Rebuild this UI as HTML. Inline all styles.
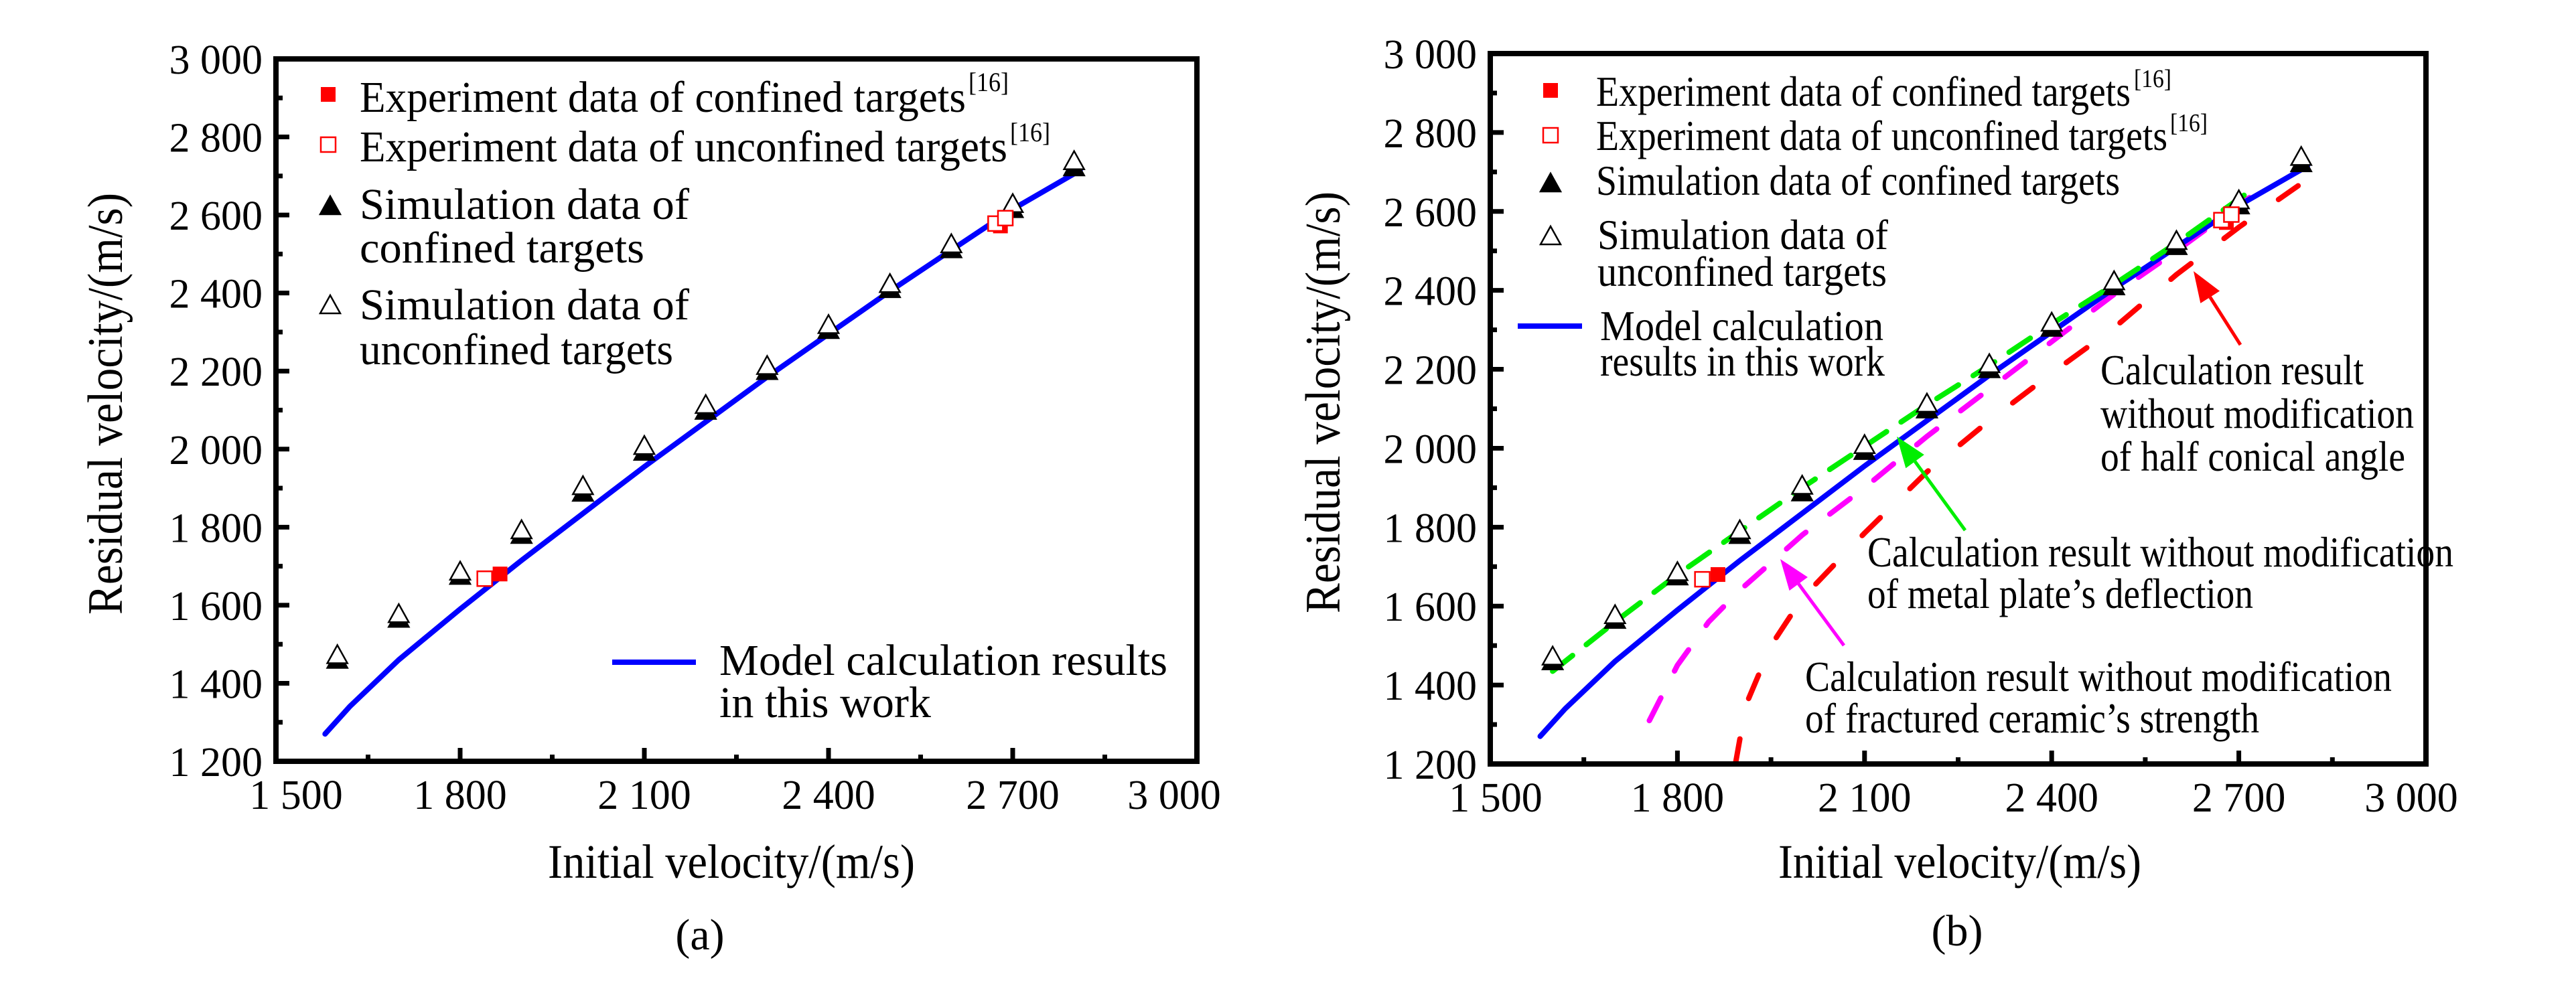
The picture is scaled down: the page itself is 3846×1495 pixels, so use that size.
<!DOCTYPE html>
<html><head><meta charset="utf-8"><style>
html,body{margin:0;padding:0;background:#fff}
svg{display:block}
text{font-family:"Liberation Serif",serif;fill:#000}
</style></head><body>
<svg id="fig" width="3846" height="1495" viewBox="0 0 3846 1495" xmlns="http://www.w3.org/2000/svg">
<defs>
<marker id="ahR" markerWidth="8" markerHeight="8" refX="7" refY="4" orient="auto" markerUnits="userSpaceOnUse" viewBox="0 0 8 8"><path d="M0,0 L8,4 L0,8 z" fill="#f00"/></marker>
</defs>
</svg>
<script>
// ---- data (shared by both panels) ----
const simX = [1600,1700,1800,1900,2000,2100,2200,2300,2400,2500,2600,2700,2800];
const simUnconf = [1472,1577,1686,1792,1905,2008,2113,2213,2318,2423,2525,2628,2738];
const simConf = [1460,1565,1675,1780,1888,1993,2098,2200,2305,2410,2512,2615,2722];
const expConfX = [1865,2680];
const expConfY = [1680,2572];
const expUnconfX = [1840,2672,2688];
const expUnconfY = [1668,2578,2592];
const modelX = [1580,1620,1700,1800,1900,2000,2100,2200,2300,2400,2500,2600,2700,2810];
const modelY = [1270,1340,1460,1590,1715,1835,1955,2070,2185,2295,2405,2510,2615,2715];
const deflX = [1600,1700,1800,1900,2000,2100,2200,2300,2400,2500,2600,2730];
const deflY = [1435,1560,1680,1790,1900,2005,2110,2210,2315,2415,2520,2665];
const ceramX = [1755,1800,1850,1900,2000,2100,2200,2300,2400,2500,2600,2730];
const ceramY = [1310,1450,1560,1640,1780,1900,2030,2150,2270,2390,2500,2650];
const angleX = [1893,1910,1950,2000,2100,2200,2300,2400,2500,2600,2700,2795];
const angleY = [1200,1350,1500,1620,1785,1940,2070,2190,2305,2440,2560,2665];
const xTicks = [1500,1800,2100,2400,2700,3000];
const xTickLabels = ["1 500","1 800","2 100","2 400","2 700","3 000"];
const yTicks = [1200,1400,1600,1800,2000,2200,2400,2600,2800,3000];
const yTickLabels = ["1 200","1 400","1 600","1 800","2 000","2 200","2 400","2 600","2 800","3 000"];

const NS="http://www.w3.org/2000/svg";
const svg=document.getElementById('fig');
function mk(tag,attrs,parent){const e=document.createElementNS(NS,tag);for(const k in attrs)e.setAttribute(k,attrs[k]);(parent||svg).appendChild(e);return e;}
function txt(s,x,y,size,parent,extra){const e=mk('text',Object.assign({x:x,y:y,'font-size':size},extra||{}),parent);e.textContent=s;return e;}

function panel(id,L,R,T,B,opts){
  const g=mk('g',{});
  
  
  const sx=v=>L+(v-1500)*(R-L)/1500;
  const sy=v=>B-(v-1200)*(B-T)/1800;
  // plotted series
  function line(xs,ys,color,dash,name){
    let d='';xs.forEach((x,i)=>{d+=(i?'L':'M')+sx(x).toFixed(1)+','+sy(ys[i]).toFixed(1);});
    const p=mk('path',{d:d,fill:'none',stroke:color,'stroke-width':8,'stroke-linecap':'round','stroke-linejoin':'round'},g);
    if(dash)p.setAttribute('stroke-dasharray',dash);
    
    
  }
  if(opts.b){
    line(angleX,angleY,'#ff0000','38 62','angle-line');
    line(ceramX,ceramY,'#ff00ff','38 45','ceramic-line');
  }
  line(modelX,modelY,'#0000ff',null,'model-line');
  if(opts.b) line(deflX,deflY,'#00ee00','38 26','deflection-line');
  function tri(cx,cy,filled,name){
    const p=mk('path',{d:`M${cx},${cy-15} L${cx+15},${cy+12} L${cx-15},${cy+12} Z`,fill:filled?'#000':'#fff',stroke:'#000','stroke-width':2.5},g);
    
    
  }
  function sq(cx,cy,filled,name){
    const p=mk('rect',{x:cx-11,y:cy-11,width:22,height:22,fill:filled?'#f00':'#fff',stroke:'#f00','stroke-width':filled?0:2.5},g);
    
    
  }
  simX.forEach((x,i)=>tri(sx(x),sy(simConf[i]),true,'sim-confined-point'));
  simX.forEach((x,i)=>tri(sx(x),sy(simUnconf[i]),false,'sim-unconfined-point'));
  expConfX.forEach((x,i)=>sq(sx(x),sy(expConfY[i]),true,'exp-confined-point'));
  expUnconfX.forEach((x,i)=>sq(sx(x),sy(expUnconfY[i]),false,'exp-unconfined-point'));
  // frame
  const f=mk('rect',{x:L,y:T,width:R-L,height:B-T,fill:'none',stroke:'#000','stroke-width':8},g);
  
  
  // ticks
  for(let v=1500;v<=3000;v+=150){
    const maj=(v-1500)%300===0;
    mk('line',{x1:sx(v),x2:sx(v),y1:B,y2:B-(maj?20:10),stroke:'#000','stroke-width':7},g);
  }
  for(let v=1200;v<=3000;v+=100){
    const maj=(v-1200)%200===0;
    mk('line',{x1:L,x2:L+(maj?20:10),y1:sy(v),y2:sy(v),stroke:'#000','stroke-width':7},g);
  }
  xTicks.forEach((v,i)=>{
    let off=0;if(i===0)off=opts.b?8:30;if(i===xTicks.length-1)off=opts.b?-22:-34;
    const t=txt(xTickLabels[i],sx(v)+off,B+71,62,g,{'text-anchor':'middle'});
    
    
  });
  yTicks.forEach((v,i)=>{
    const t=txt(yTickLabels[i],L-20,sy(v)+22,62,g,{'text-anchor':'end'});
    
    
  });
  return g;
}

const ga=panel('panel-a',412,1787,88,1137,{b:false});
const gb=panel('panel-b',2225,3622,80,1141,{b:true});

function T(s,x,y,size,len,name,parent,anchor){
  const a={};if(len){a.textLength=len;a.lengthAdjust='spacingAndGlyphs';}
  if(anchor)a['text-anchor']=anchor;
  const t=txt(s,x,y,size,parent,a);
  
  
  return t;
}
function legSq(x,y,filled,parent){const r=mk('rect',{x:x-11,y:y-11,width:22,height:22,fill:filled?'#f00':'#fff',stroke:'#f00','stroke-width':filled?0:2.5},parent);}
function legTri(x,y,filled,parent){const p=mk('path',{d:`M${x},${y-15} L${x+15},${y+12} L${x-15},${y+12} Z`,fill:filled?'#000':'#fff',stroke:'#000','stroke-width':2.5},parent);}
function legLine(x1,x2,y,parent){const l=mk('line',{x1:x1,x2:x2,y1:y,y2:y,stroke:'#0000ff','stroke-width':8},parent);}

// ---- panel a legend & labels ----
legSq(490,141,true,ga);
T('Experiment data of confined targets',537,167,66,905,'legend-exp-confined',ga);
T('[16]',1446,136,40,60,'legend-ref',ga);
legSq(490,216,false,ga);
T('Experiment data of unconfined targets',537,241,66,967,'legend-exp-unconfined',ga);
T('[16]',1508,211,40,60,'legend-ref',ga);
legTri(493,308,true,ga);
T('Simulation data of',537,327,66,492,'legend-sim-confined',ga);
T('confined targets',537,392,66,425,'legend-sim-confined-2',ga);
legTri(493,456,false,ga);
T('Simulation data of',537,477,66,492,'legend-sim-unconfined',ga);
T('unconfined targets',537,544,66,468,'legend-sim-unconfined-2',ga);
legLine(914,1039,989,ga);
T('Model calculation results',1074,1008,66,669,'legend-model',ga);
T('in this work',1074,1071,66,316,'legend-model-2',ga);
T('Initial velocity/(m/s)',1092,1311,72,548,'x-axis-title',ga,'middle');
(function(){const t=T('Residual velocity/(m/s)',0,0,74,630,'y-axis-title',ga,'middle');t.setAttribute('transform','translate(182,603) rotate(-90)');})();
T('(a)',1045,1418,66,null,'panel-label-a',ga,'middle');

// ---- panel b legend & labels ----
legSq(2315,135,true,gb);
T('Experiment data of confined targets',2383,158,64,798,'legend-exp-confined',gb);
T('[16]',3186,130,38,56,'legend-ref',gb);
legSq(2315,202,false,gb);
T('Experiment data of unconfined targets',2383,224,64,853,'legend-exp-unconfined',gb);
T('[16]',3240,196,38,56,'legend-ref',gb);
legTri(2315,274,true,gb);
T('Simulation data of confined targets',2383,291,64,782,'legend-sim-confined',gb);
legTri(2315,353,false,gb);
T('Simulation data of',2385,372,64,434,'legend-sim-unconfined',gb);
T('unconfined targets',2385,427,64,432,'legend-sim-unconfined-2',gb);
legLine(2266,2362,487,gb);
T('Model calculation',2389,508,64,423,'legend-model',gb);
T('results in this work',2389,561,64,425,'legend-model-2',gb);
T('Calculation result',3136,574,64,393,'annotation-angle',gb);
T('without modification',3136,639,64,468,'annotation-angle-2',gb);
T('of half conical angle',3136,703,64,455,'annotation-angle-3',gb);
T('Calculation result without modification',2788,846,64,875,'annotation-deflection',gb);
T('of metal plate\u2019s deflection',2788,908,64,576,'annotation-deflection-2',gb);
T('Calculation result without modification',2695,1032,64,876,'annotation-ceramic',gb);
T('of fractured ceramic\u2019s strength',2695,1094,64,678,'annotation-ceramic-2',gb);
function arrow(x1,y1,x2,y2,color,name){
  const g=mk('g',{},gb);
  
  
  const dx=x2-x1,dy=y2-y1,len=Math.hypot(dx,dy),ux=dx/len,uy=dy/len;
  const hl=46,hw=17;
  const bx=x2-ux*hl,by=y2-uy*hl;
  mk('line',{x1:x1,y1:y1,x2:bx,y2:by,stroke:color,'stroke-width':5},g);
  mk('path',{d:`M${x2},${y2} L${bx-uy*hw},${by+ux*hw} L${bx+uy*hw},${by-ux*hw} Z`,fill:color},g);
}
arrow(3345,515,3275,405,'#ff0000','arrow-angle');
arrow(2934,792,2832,652,'#00ee00','arrow-deflection');
arrow(2753,964,2658,835,'#ff00ff','arrow-ceramic');
T('Initial velocity/(m/s)',2926,1311,72,542,'x-axis-title',gb,'middle');
(function(){const t=T('Residual velocity/(m/s)',0,0,74,630,'y-axis-title',gb,'middle');t.setAttribute('transform','translate(2000,601) rotate(-90)');})();
T('(b)',2922,1412,66,null,'panel-label-b',gb,'middle');
</script>
</body></html>
